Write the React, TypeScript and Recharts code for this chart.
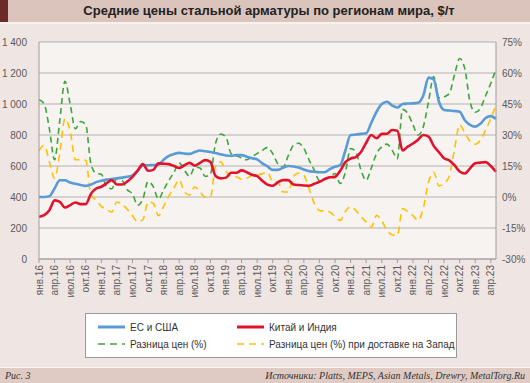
import React from "react";
import {
  ComposedChart,
  Line,
  XAxis,
  YAxis,
  CartesianGrid,
} from "recharts";

const monthNames = ["янв", "фев", "мар", "апр", "май", "июн", "июл", "авг", "сен", "окт", "ноя", "дек"];
const startYear = 16;

// ЕС и США, $/т
const euUsa = [
  400, 400, 405, 455, 508, 508, 493, 485, 478, 472,
  480, 496, 505, 512, 516, 520, 525, 530, 540, 570,
  603, 605, 606, 608, 640, 665, 678, 685, 680, 678,
  690, 700, 695, 690, 684, 675, 668, 666, 670, 670,
  660, 650, 643, 617, 597, 575, 575, 588, 600, 597,
  590, 578, 567, 563, 560, 560, 580, 595, 605, 700,
  800, 803, 807, 811, 880, 950, 1000, 1015, 990, 977,
  1000, 1003, 1004, 1008, 1055, 1170, 1158, 1016, 962, 958,
  955, 950, 895, 865, 854, 872, 910, 922, 904,
];

// Китай и Индия, $/т
const chinaIndia = [
  272, 283, 315, 378, 369, 332, 348, 365, 354, 354,
  420, 455, 466, 488, 509, 481, 481, 500, 530, 570,
  612, 569, 575, 617, 615, 612, 600, 587, 605, 620,
  602, 620, 638, 627, 535, 520, 525, 556, 556, 572,
  560, 543, 535, 505, 480, 473, 495, 509, 509, 481,
  477, 474, 473, 485, 498, 515, 527, 530, 570, 625,
  648, 658, 690, 750, 800, 779, 807, 808, 832, 828,
  700, 725, 745, 770, 800, 790, 730, 690, 650, 636,
  605, 565, 552, 585, 617, 622, 625, 600, 563,
];

// Разница цен, %
const priceGap = [
  47, 45, 33, 18, 37, 56, 45, 33, 36.5, 35,
  16, 11.5, 11, 5, 4, 9, 8, 3.5, 1.5, -4,
  -1, 7.5, 5, -1, 3.5, 8, 12, 16.5, 13, 10,
  14.5, 14, 10, 11, 26, 30.5, 29, 21, 20, 19,
  18, 19.5, 21, 22.5, 24, 21, 16, 14.5, 20, 25,
  26, 23.5, 18, 13, 8, 9, 9.7, 11.4, 6.5, 12,
  23.5, 22, 13, 8.1, 14, 21, 24.3, 25.6, 22.7, 18.5,
  42.4, 40.5, 35, 30, 34, 46, 58.3, 48, 48.5, 50,
  59, 67, 62, 46, 41, 43, 49, 55, 62,
];

// Разница цен (%) при доставке на Запад
const gapDelivered = [
  22.5, 25, 17, 9, 21, 38, 32, 18, 18, 17.8,
  1, -1.5, -4.5, -6, -7.3, -2.4, -3.5, -6, -9, -12,
  -11, -2.4, -3, -9, -4.5, 0.5, 4.5, 8.3, 2.4, 1,
  4.9, 2.5, 0, 0, 15, 17, 12.5, 10, 9.8, 8.6,
  9, 10.4, 10.8, 11.2, 12, 7.3, 7.3, 2.4, 2.4, 10,
  11.6, 10.5, 4, -3, -6.5, -6.8, -7.3, -9.5, -11.3, -7,
  -4.7, -6.5, -9.5, -12, -14.6, -8.9, -11.5, -16, -18.3, -18.6,
  -5.6, -7, -9, -11.3, -5.5, 7, 12, 5.4, 6.5, 10,
  23, 35, 31, 27, 25.5, 27.5, 32.4, 38, 44.5,
];

const leftTicks = [0, 200, 400, 600, 800, 1000, 1200, 1400];
const rightTicks = [-30, -15, 0, 15, 30, 45, 60, 75];

const data = euUsa.map((v, i) => ({
  month: `${monthNames[i % 12]}.${startYear + Math.floor(i / 12)}`,
  euUsa: v,
  chinaIndia: chinaIndia[i],
  priceGap: priceGap[i],
  gapDelivered: gapDelivered[i],
}));

const BLUE = "#5b9bd5";
const RED = "#e3122c";
const GREEN = "#3da63a";
const YELLOW = "#ffc000";
const AXIS = "#a09c9a";
const TEXT = "#595959";
const FONT = '"Liberation Sans", Arial, sans-serif';

const MonthTick = ({ x, y, payload }: any) => (
  <text
    x={x}
    y={y}
    transform={`rotate(-90 ${x} ${y})`}
    textAnchor="end"
    dominantBaseline="central"
    fontSize={10}
    fill={TEXT}
    fontFamily={FONT}
  >
    {payload.value}
  </text>
);

const legendItems = [
  { label: "ЕС и США", color: BLUE, dash: undefined, width: 3, x: 98, y: 327 },
  { label: "Китай и Индия", color: RED, dash: undefined, width: 3, x: 237, y: 327 },
  { label: "Разница цен (%)", color: GREEN, dash: "7 5", width: 1.6, x: 98, y: 344 },
  { label: "Разница цен (%) при доставке на Запад", color: YELLOW, dash: "7 5", width: 1.6, x: 237, y: 344 },
];

export default function App() {
  return (
    <div
      style={{
        position: "absolute",
        left: 0,
        top: 0,
        width: 530,
        height: 383,
        background: "#efe6e3",
        fontFamily: FONT,
        overflow: "hidden",
      }}
    >
      {/* title bar */}
      <div style={{ position: "absolute", left: 0, top: 0, width: 530, height: 22, background: "#dbc4bc" }} />
      <div style={{ position: "absolute", left: 0, top: 0, width: 8, height: 22, background: "#6d2b27" }} />
      <div style={{ position: "absolute", left: 0, top: 22, width: 530, height: 2, background: "#f7f2f0" }} />
      <div
        style={{
          position: "absolute",
          left: 8,
          top: 0,
          width: 522,
          height: 22,
          lineHeight: "22px",
          textAlign: "center",
          fontSize: 13,
          fontWeight: "bold",
          color: "#222",
        }}
      >
        Средние цены стальной арматуры по регионам мира, $/т
      </div>

      <div style={{ position: "absolute", left: 0, top: 0 }}>
        <ComposedChart width={530} height={300} data={data} margin={{ top: 42, right: 0, bottom: 1, left: 0 }}>
          <CartesianGrid vertical={false} stroke="#b4b0ae" fill="#f6f3f1" yAxisId="left" />
          <XAxis
            dataKey="month"
            interval={2}
            height={40}
            tick={<MonthTick />}
            tickSize={4}
            tickMargin={2}
            stroke={AXIS}
          />
          <YAxis
            yAxisId="left"
            width={39}
            domain={[0, 1400]}
            ticks={leftTicks}
            tickLine={false}
            tickSize={0}
            tickMargin={12}
            stroke={AXIS}
            tick={{ fontSize: 10, fill: TEXT, fontFamily: FONT }}
            tickFormatter={(v: number) => (v >= 1000 ? `${Math.floor(v / 1000)} ${String(v % 1000).padStart(3, "0")}` : `${v}`)}
          />
          <YAxis
            yAxisId="right"
            orientation="right"
            width={34}
            domain={[-30, 75]}
            ticks={rightTicks}
            tickLine={false}
            tickSize={0}
            tickMargin={6}
            stroke={AXIS}
            tick={{ fontSize: 10, fill: TEXT, fontFamily: FONT, textAnchor: "start" }}
            tickFormatter={(v: number) => `${v}%`}
          />
          <Line yAxisId="right" type="monotone" dataKey="gapDelivered" stroke={YELLOW} strokeWidth={1.6} strokeDasharray="7 5" dot={false} isAnimationActive={false} />
          <Line yAxisId="right" type="monotone" dataKey="priceGap" stroke={GREEN} strokeWidth={1.6} strokeDasharray="6 4" dot={false} isAnimationActive={false} />
          <Line yAxisId="left" type="monotone" dataKey="euUsa" stroke={BLUE} strokeWidth={2.6} dot={false} isAnimationActive={false} />
          <Line yAxisId="left" type="monotone" dataKey="chinaIndia" stroke={RED} strokeWidth={2.6} dot={false} isAnimationActive={false} />
        </ComposedChart>
      </div>

      {/* legend */}
      <div
        style={{
          position: "absolute",
          left: 85,
          top: 313,
          width: 370,
          height: 43,
          background: "#ffffff",
          border: "1px solid #9a9a9a",
        }}
      />
      <svg style={{ position: "absolute", left: 0, top: 0 }} width={530} height={383}>
        {legendItems.map((it) => (
          <g key={it.label}>
            <line
              x1={it.x}
              x2={it.x + 27}
              y1={it.y}
              y2={it.y}
              stroke={it.color}
              strokeWidth={it.width}
              strokeDasharray={it.dash}
            />
            <text x={it.x + 32} y={it.y} dominantBaseline="central" fontSize={10} fill="#333" fontFamily={FONT}>
              {it.label}
            </text>
          </g>
        ))}
      </svg>

      {/* footer */}
      <div style={{ position: "absolute", left: 0, top: 367, width: 530, height: 1, background: "#f9f5f3" }} />
      <div style={{ position: "absolute", left: 0, top: 368, width: 530, height: 15, background: "#dfcbc4" }} />
      <div
        style={{
          position: "absolute",
          left: 5,
          top: 368,
          height: 15,
          lineHeight: "15px",
          fontSize: 10,
          fontStyle: "italic",
          fontFamily: '"Liberation Serif", "DejaVu Serif", serif',
          color: "#333",
        }}
      >
        Рис. 3
      </div>
      <div
        style={{
          position: "absolute",
          right: 5,
          top: 368,
          height: 15,
          lineHeight: "15px",
          fontSize: 10,
          fontStyle: "italic",
          fontFamily: '"Liberation Serif", "DejaVu Serif", serif',
          color: "#333",
        }}
      >
        Источники: Platts, MEPS, Asian Metals, Drewry, MetalTorg.Ru
      </div>
    </div>
  );
}
